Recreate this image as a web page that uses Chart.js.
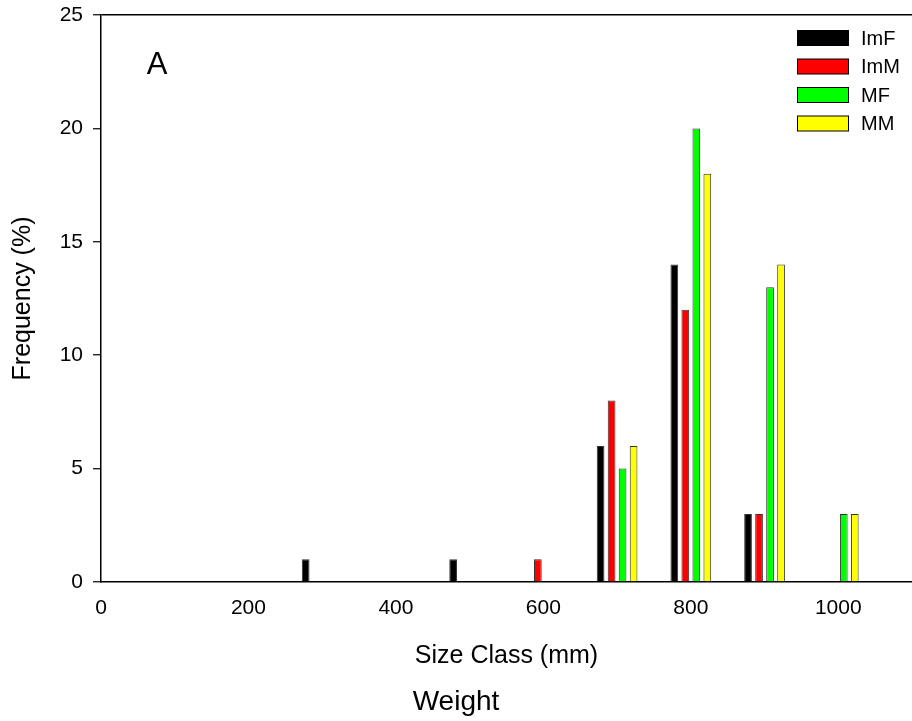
<!DOCTYPE html>
<html>
<head>
<meta charset="utf-8">
<script src="https://cdn.jsdelivr.net/npm/chart.js@4/dist/chart.umd.min.js"></script>
<style>
  html, body { margin: 0; padding: 0; background: #fff; }
  #wrap { width: 912px; height: 721px; }
</style>
</head>
<body>
<div id="wrap"><canvas id="c" width="912" height="721"></canvas></div>
<script>
// Size-class bin centres (mm) and frequency (%) per group (null = no bar)
const sizeClasses = [300, 500, 600, 700, 800, 900, 1000];
const seriesNames = ['ImF', 'ImM', 'MF', 'MM'];
const imF = [1, 1, null, 6, 14, 3, null];
const imM = [null, null, 1, 8, 12, 3, null];
const mF  = [null, null, null, 5, 20, 13, 3];
const mM  = [null, null, null, 6, 18, 14, 3];
const seriesColors = ['#000000', '#ff0000', '#00ff00', '#ffff00'];
const xTickValues = [0, 200, 400, 600, 800, 1000];
const panelLabel = 'A';

const FONT = '"Liberation Sans", Arial, sans-serif';
const seriesValues = [imF, imM, mF, mM];

const datasets = seriesValues.map((vals, i) => ({
  label: seriesNames[i],
  data: sizeClasses.map((x, j) => ({ x: x, y: vals[j] })),
  backgroundColor: seriesColors[i],
  borderColor: '#333333',
  borderWidth: 1,
  borderSkipped: 'bottom',
  categoryPercentage: 0.597,
  barPercentage: 0.7
}));

const extrasPlugin = {
  id: 'extras',
  afterDraw(chart) {
    const ctx = chart.ctx;
    ctx.save();
    const rowY = [38, 66.5, 95, 123.5];
    chart.data.datasets.forEach((ds, i) => {
      const y = rowY[i];
      ctx.fillStyle = ds.backgroundColor;
      ctx.fillRect(797.5, y - 7.5, 51, 15);
      ctx.strokeStyle = '#000';
      ctx.lineWidth = 1;
      ctx.strokeRect(797.5, y - 7.5, 51, 15);
      ctx.fillStyle = '#000';
      ctx.font = '20px ' + FONT;
      ctx.textAlign = 'left';
      ctx.textBaseline = 'middle';
      ctx.fillText(ds.label, 861, y + 1);
    });
    ctx.font = '31px ' + FONT;
    ctx.textAlign = 'center';
    ctx.textBaseline = 'middle';
    ctx.fillStyle = '#000';
    ctx.fillText(panelLabel, 157, 65);
    ctx.restore();
  }
};

new Chart(document.getElementById('c'), {
  type: 'bar',
  data: { datasets: datasets },
  plugins: [extrasPlugin],
  options: {
    responsive: false,
    animation: false,
    devicePixelRatio: 1,
    layout: { padding: { top: 15, right: 0, left: 0, bottom: 0 } },
    plugins: {
      legend: { display: false },
      tooltip: { enabled: false },
      title: {
        display: true,
        position: 'bottom',
        text: 'Weight',
        color: '#000',
        font: { family: FONT, size: 28, weight: 'normal', lineHeight: 1.2 },
        padding: { top: 0, bottom: 2 }
      }
    },
    scales: {
      x: {
        type: 'linear',
        min: 0,
        max: 1100,
        offset: false,
        afterBuildTicks(scale) {
          scale.ticks = xTickValues.map(v => ({ value: v }));
        },
        afterFit(scale) { scale.height = 103.4; scale.paddingRight = 0; },
        grid: { display: false, drawTicks: false },
        border: { display: true, color: '#000', width: 1.5 },
        ticks: {
          color: '#000',
          padding: 14,
          font: { family: FONT, size: 21 },
          maxRotation: 0,
          callback: (v) => String(v)
        },
        title: {
          display: true,
          text: 'Size Class (mm)',
          color: '#000',
          font: { family: FONT, size: 25, lineHeight: 1.2 },
          padding: { top: 0, bottom: 14.4 }
        }
      },
      y: {
        min: 0,
        max: 25,
        afterFit(scale) {
          scale.width = 101;
          scale.paddingTop = 0;
          scale.paddingBottom = 0;
        },
        grid: {
          display: true,
          drawOnChartArea: true,
          drawTicks: true,
          tickLength: 8,
          lineWidth: 1.5,
          color: (c) => (c.tick && c.tick.value === 25 ? '#000' : 'rgba(0,0,0,0)'),
          tickColor: '#000',
          tickWidth: 1.2
        },
        border: { display: true, color: '#000', width: 1.5 },
        ticks: {
          stepSize: 5,
          color: '#000',
          padding: 10,
          font: { family: FONT, size: 21 },
          callback: (v) => String(v)
        },
        title: {
          display: true,
          text: 'Frequency (%)',
          color: '#000',
          font: { family: FONT, size: 25, lineHeight: 1.2 },
          padding: { top: 8, bottom: 0 }
        }
      }
    }
  }
});
</script>
</body>
</html>
